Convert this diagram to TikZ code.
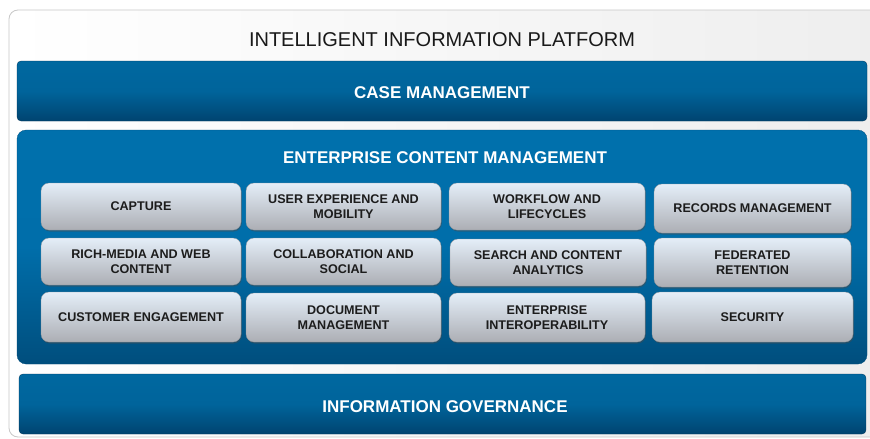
\documentclass[tikz,border=0pt]{standalone}
\usepackage{fontspec}
\setmainfont{Liberation Sans}
\usetikzlibrary{shadows}
\definecolor{barTop}{RGB}{0,104,160}
\definecolor{barMid}{RGB}{0,100,155}
\definecolor{barBot}{RGB}{0,68,112}
\definecolor{ecmTop}{RGB}{0,112,172}
\definecolor{ecmMid}{RGB}{0,110,170}
\definecolor{ecmBot}{RGB}{0,78,125}
\definecolor{boxTop}{RGB}{228,238,248}
\definecolor{boxBot}{RGB}{172,174,180}
\definecolor{boxText}{RGB}{28,28,28}
\definecolor{panelL}{RGB}{255,255,255}
\definecolor{panelR}{RGB}{238,238,238}
\definecolor{panelEdge}{RGB}{200,200,200}
\tikzset{
  panel/.style={draw=panelEdge, line width=0.8pt, rounded corners=9pt, left color=panelL, right color=panelR},
  bluebar/.style={rounded corners=4pt, top color=barTop, bottom color=barBot, middle color=barMid, draw=barBot!80!black, line width=0.3pt},
  ecmpanel/.style={rounded corners=9pt, top color=ecmTop, bottom color=ecmBot, middle color=ecmMid, draw=ecmBot, line width=0.3pt},
  bartext/.style={text=white, font=\fontsize{17}{20}\selectfont\bfseries},
  item/.style={rounded corners=8pt, top color=boxTop, bottom color=boxBot, draw=boxBot!85!black, line width=0.3pt,
     drop shadow={shadow xshift=0.8pt, shadow yshift=-1.5pt, opacity=0.45, fill=black!70}},
  itemtext/.style={text=boxText, align=center, font=\fontsize{12.6}{15.5}\selectfont\bfseries},
}
\newcommand{\itembox}[6]{%
  \path[item] (#1,#2) rectangle (#3,#4);
  \node[itemtext] (#5) at ({(#1+#3)/2},{(#2+#4)/2}) {#6};
}
\begin{document}
\begin{tikzpicture}[x=1pt,y=-1pt]
\useasboundingbox (0,0) rectangle (870,439);
\fill[white] (0,0) rectangle (870,439);
% outer panel
\path[panel] (9,10) rectangle (885,437);
\node[font=\fontsize{20}{24}\selectfont, text=black!90] (title) at (442,40) {INTELLIGENT INFORMATION PLATFORM};
% case management
\path[bluebar] (17,61) rectangle (867,121);
\node[bartext] (cm) at (442,93) {CASE MANAGEMENT};
% ECM
\path[ecmpanel] (17,130) rectangle (867,364);
\node[bartext] (ecm) at (445,158) {ENTERPRISE CONTENT MANAGEMENT};
% row 1
\itembox{41}{183}{241}{230}{capture}{CAPTURE}
\itembox{246}{183}{441}{230}{ux}{USER EXPERIENCE AND\\MOBILITY}
\itembox{449}{183}{645}{230}{wf}{WORKFLOW AND\\LIFECYCLES}
\itembox{654}{184}{851}{233}{rm}{RECORDS MANAGEMENT}
% row 2
\itembox{41}{238}{241}{285}{rich}{RICH-MEDIA AND WEB\\CONTENT}
\itembox{246}{238}{441}{285}{collab}{COLLABORATION AND\\SOCIAL}
\itembox{450}{239}{646}{286}{search}{SEARCH AND CONTENT\\ANALYTICS}
\itembox{654}{238}{851}{287}{fed}{FEDERATED\\RETENTION}
% row 3
\itembox{41}{292}{241}{342}{cust}{CUSTOMER ENGAGEMENT}
\itembox{246}{293}{441}{342}{doc}{DOCUMENT\\MANAGEMENT}
\itembox{449}{293}{645}{342}{interop}{ENTERPRISE\\INTEROPERABILITY}
\itembox{652}{292}{853}{342}{sec}{SECURITY}
% information governance
\path[bluebar] (19,374) rectangle (866,434);
\node[bartext] (ig) at (445,407) {INFORMATION GOVERNANCE};
\end{tikzpicture}
\end{document}
